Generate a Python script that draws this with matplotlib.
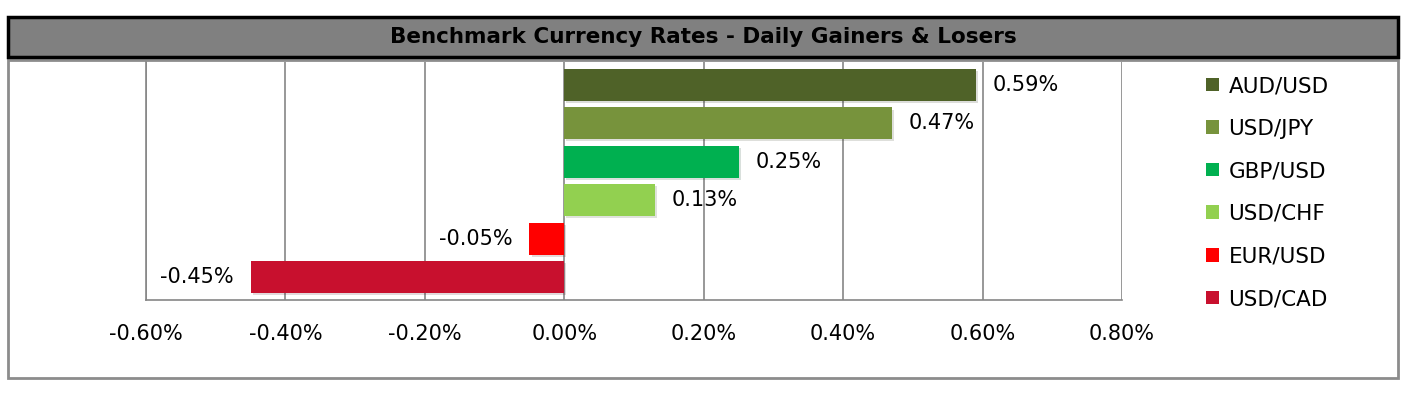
import matplotlib

matplotlib.use("Agg")
import matplotlib.pyplot as plt
import matplotlib.patheffects as pe
from matplotlib.patches import Patch, Rectangle
from matplotlib.ticker import FuncFormatter, MultipleLocator

# --- data -------------------------------------------------------------------
pairs = ["AUD/USD", "USD/JPY", "GBP/USD", "USD/CHF", "EUR/USD", "USD/CAD"]
changes = [0.59, 0.47, 0.25, 0.13, -0.05, -0.45]   # percent
colors = ["#4F6228", "#77933C", "#00B050", "#92D050", "#FF0000", "#C8102E"]
title = "Benchmark Currency Rates - Daily Gainers & Losers"

W, H = 1420, 394
FS = 15

plt.rcParams["font.family"] = ["DejaVu Sans"]

fig = plt.figure(figsize=(W / 100, H / 100), dpi=100)


def fx(px):
    return px / W


def fy(py):
    return 1 - py / H


# frame and title band (behind the axes)
fig.patches.append(Rectangle((fx(8), fy(378)), fx(1398) - fx(8), fy(60) - fy(378),
                             transform=fig.transFigure, facecolor="white",
                             edgecolor="#8C8C8C", lw=2, zorder=-2))
fig.patches.append(Rectangle((fx(8), fy(57)), fx(1398) - fx(8), fy(17) - fy(57),
                             transform=fig.transFigure, facecolor="#808080",
                             edgecolor="black", lw=2.5, zorder=-2))
fig.text(fx(703), fy(37), title, ha="center", va="center", fontsize=15.5,
         fontweight="bold", family=["Liberation Sans Narrow", "DejaVu Sans"])

ax = fig.add_axes([fx(146), fy(300), fx(1122) - fx(146), fy(62) - fy(300)])
ax.set_facecolor("none")
ax.set_zorder(2)

ypos = list(range(len(pairs)))
shadow = [pe.SimplePatchShadow(offset=(1.5, -1.5), alpha=0.15), pe.Normal()]
for y, v, c in zip(ypos, changes, colors):
    b = ax.barh(y, v, height=0.83, color=c, zorder=3)
    b[0].set_path_effects(shadow)
    ax.annotate(f"{v:.2f}%", (v, y), textcoords="offset points",
                xytext=(12 if v >= 0 else -12, 0),
                ha="left" if v >= 0 else "right", va="center", fontsize=FS)

ax.set_xlim(-0.6, 0.8)
ax.set_ylim(len(pairs) - 0.4, -0.6)
ax.xaxis.set_major_locator(MultipleLocator(0.2))
ax.xaxis.set_major_formatter(FuncFormatter(lambda x, _: f"{x:.2f}%"))
ax.set_yticks([])
ax.grid(axis="x", color="#868686", lw=1.2, zorder=0)
ax.tick_params(axis="x", length=0, pad=17, labelsize=FS)
for s in ["top", "right"]:
    ax.spines[s].set_visible(False)
for s in ["bottom", "left"]:
    ax.spines[s].set_color("#868686")
    ax.spines[s].set_linewidth(1.2)

handles = [Patch(facecolor=c, edgecolor="none", label=p) for p, c in zip(pairs, colors)]
fig.legend(handles=handles, loc="upper left", bbox_to_anchor=(fx(1206), fy(76)),
           frameon=False, fontsize=15.5, borderpad=0, borderaxespad=0,
           handlelength=0.6, handleheight=0.6, handletextpad=0.45,
           labelspacing=1.05)

fig.savefig("out.png", dpi=100)
